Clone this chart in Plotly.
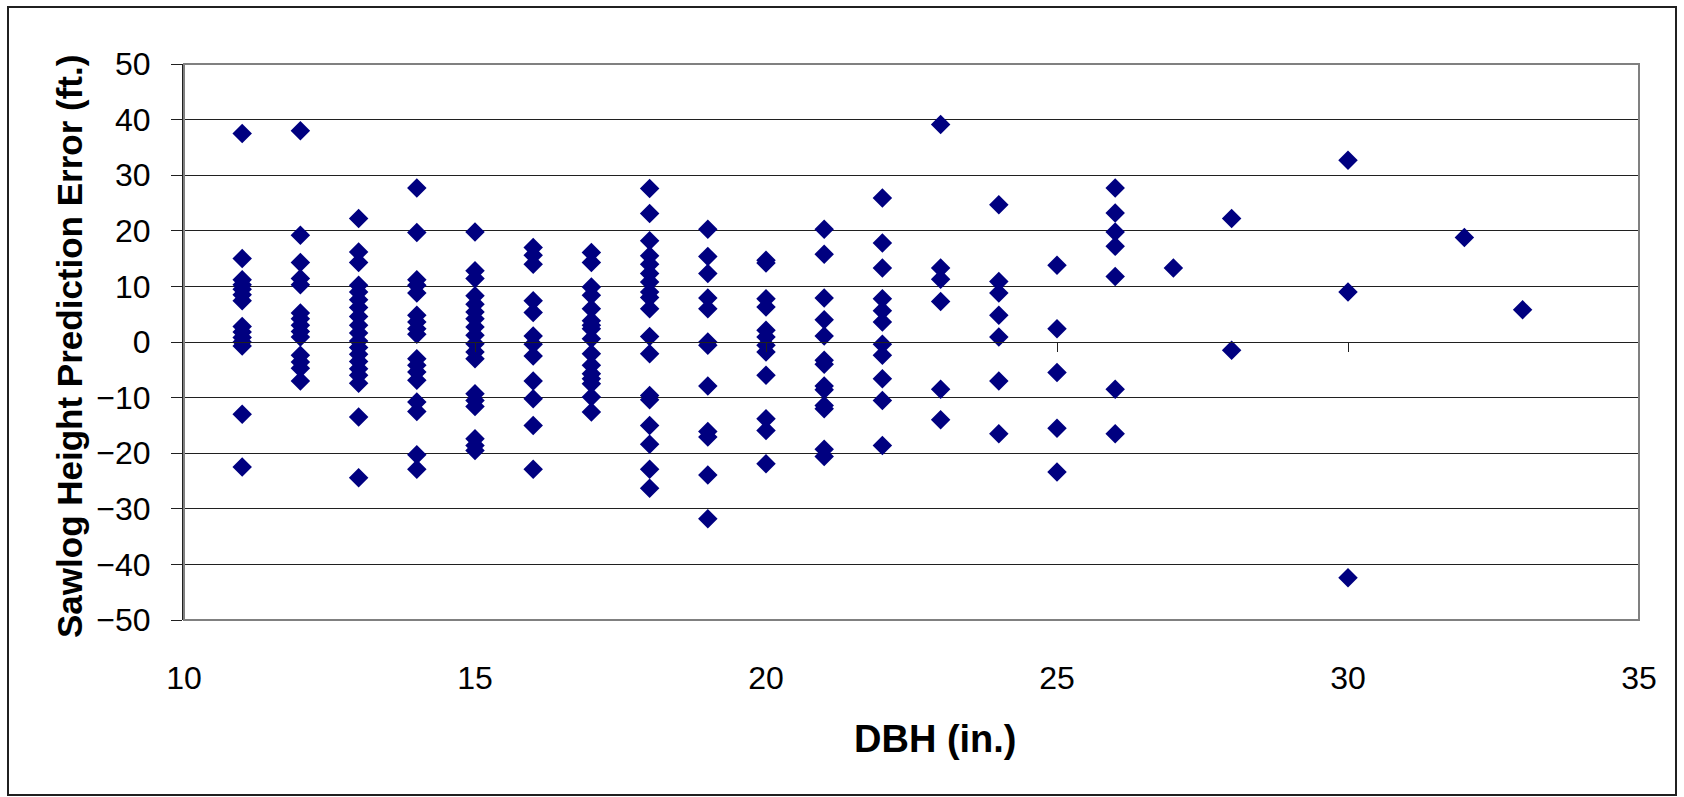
import plotly.graph_objects as go

# Sawlog height prediction error (ft.) grouped by tree DBH class (in.)
dbh_classes = [11, 12, 13, 14, 15, 16, 17, 18, 19, 20, 21, 22, 23, 24, 25, 26, 27, 28, 30, 32, 33]

err_11 = [37.5, 15.0, 11.2, 10.3, 9.5, 8.5, 7.4, 2.8, 1.8, 0.8, 0.0, -0.7, -13.0, -22.5]
err_12 = [38.0, 19.2, 14.3, 11.4, 10.3, 5.2, 4.2, 3.0, 1.9, 0.9, -2.4, -3.6, -4.7, -7.0]
err_13 = [22.2, 16.2, 14.3, 10.2, 9.0, 7.6, 6.2, 4.6, 3.0, 1.6, 0.2, -1.0, -2.2, -3.5, -4.8,
          -6.0, -7.4, -13.5, -24.4]
err_14 = [27.7, 19.7, 11.2, 10.2, 8.8, 4.8, 3.6, 2.4, 1.4, -3.0, -4.2, -5.4, -6.9, -10.8,
          -12.5, -20.3, -22.9]
err_15 = [19.8, 12.8, 11.4, 8.3, 6.8, 5.4, 4.2, 2.7, 1.2, -0.3, -1.8, -3.0, -9.3, -10.5,
          -11.6, -17.4, -18.6, -19.5]
err_16 = [17.0, 15.6, 14.0, 7.4, 5.3, 1.1, -0.4, -2.5, -7.0, -10.2, -15.0, -22.9]
err_17 = [16.1, 14.3, 9.9, 8.4, 6.0, 3.8, 3.0, 2.4, 0.6, -2.1, -4.2, -5.7, -6.6, -7.5,
          -9.9, -12.6]
err_18 = [27.6, 23.1, 18.2, 15.5, 14.0, 12.3, 10.8, 9.0, 8.0, 6.0, 1.0, -2.1, -9.6, -10.4,
          -15.0, -18.4, -22.9, -26.3]
err_19 = [20.3, 15.4, 12.3, 7.9, 6.0, 0.0, -0.6, -7.9, -16.1, -17.1, -23.9, -31.8]
err_20 = [14.7, 14.2, 7.8, 6.3, 2.1, 0.9, -0.6, -1.8, -6.0, -13.8, -15.9, -21.9]
err_21 = [20.3, 15.8, 7.9, 4.0, 1.1, -3.3, -4.0, -7.9, -8.6, -11.4, -12.0, -19.3, -20.6]
err_22 = [25.9, 17.8, 13.3, 7.8, 5.6, 3.6, -0.4, -2.4, -6.6, -10.5, -18.6]
err_23 = [39.1, 13.3, 11.3, 7.3, -8.5, -14.0]
err_24 = [24.7, 10.9, 8.8, 4.8, 0.9, -7.0, -16.5]
err_25 = [13.8, 2.4, -5.5, -15.5, -23.4]
err_26 = [27.7, 23.2, 19.8, 17.2, 11.8, -8.5, -16.5]
err_27 = [13.3]
err_28 = [22.2, -1.5]
err_30 = [32.7, 9.0, -42.4]
err_32 = [18.8]
err_33 = [5.8]

errors_by_class = [err_11, err_12, err_13, err_14, err_15, err_16, err_17, err_18, err_19,
                   err_20, err_21, err_22, err_23, err_24, err_25, err_26, err_27, err_28,
                   err_30, err_32, err_33]

x_ticks = [10, 15, 20, 25, 30, 35]
y_ticks = [50, 40, 30, 20, 10, 0, -10, -20, -30, -40, -50]

dbh = []
err = []
for d, vals in zip(dbh_classes, errors_by_class):
    dbh.extend([d] * len(vals))
    err.extend(vals)

W, H = 1684, 797
L, R, T, B = 184, 45, 64, 177
pw, ph = W - L - R, H - T - B

def px_x(p):
    return (p - L) / pw

def px_y(p):
    return (H - B - p) / ph

fig = go.Figure()
fig.add_trace(go.Scatter(
    x=dbh, y=err, mode="markers",
    marker=dict(symbol="diamond", size=15, color="#000080", line=dict(width=0)),
    showlegend=False, hoverinfo="x+y",
))
# empty trace so the zero-crossing x axis is rendered
fig.add_trace(go.Scatter(x=[], y=[], xaxis="x2", showlegend=False))

tick_font = dict(family="Liberation Sans, Arial, sans-serif", size=32, color="black")

fig.update_layout(
    width=W, height=H,
    margin=dict(l=L, r=R, t=T, b=B, autoexpand=False),
    paper_bgcolor="white", plot_bgcolor="white",
    xaxis=dict(
        range=[10, 35], tickvals=x_ticks, ticks="", showline=False, showgrid=False,
        zeroline=False, tickfont=tick_font, ticklabelstandoff=36,
    ),
    xaxis2=dict(
        overlaying="x", matches="x", anchor="free", position=0.5, side="bottom",
        range=[10, 35], tickvals=x_ticks, showticklabels=False, showgrid=False,
        zeroline=False, showline=True, linecolor="#202020", linewidth=1,
        ticks="outside", ticklen=9, tickcolor="#202020", tickwidth=1,
    ),
    yaxis=dict(
        range=[-50, 50], tickvals=y_ticks, showgrid=True, gridcolor="#202020",
        gridwidth=1, zeroline=False, showline=True, linecolor="#202020", linewidth=2,
        ticks="outside", ticklen=11, tickcolor="#202020", tickwidth=1,
        tickfont=tick_font, ticklabelstandoff=14,
    ),
    shapes=[
        # plot-area frame
        dict(type="rect", xref="paper", yref="paper", x0=0, y0=0, x1=1, y1=1,
             line=dict(color="#808080", width=2), layer="above"),
        # chart-area frame
        dict(type="rect", xref="paper", yref="paper",
             x0=px_x(8), x1=px_x(1676), y0=px_y(795), y1=px_y(7),
             line=dict(color="#202020", width=2), layer="above"),
    ],
    annotations=[
        dict(text="<b>Sawlog Height Prediction Error (ft.)</b>", xref="paper", yref="paper",
             x=px_x(70), y=px_y(347), xanchor="center", yanchor="middle", textangle=-90,
             showarrow=False,
             font=dict(family="Liberation Sans, Arial, sans-serif", size=35, color="black")),
        dict(text="<b>DBH (in.)</b>", xref="paper", yref="paper",
             x=px_x(935), y=px_y(739), xanchor="center", yanchor="middle",
             showarrow=False,
             font=dict(family="Liberation Sans, Arial, sans-serif", size=38, color="black")),
    ],
)

fig.write_html("out.html")
